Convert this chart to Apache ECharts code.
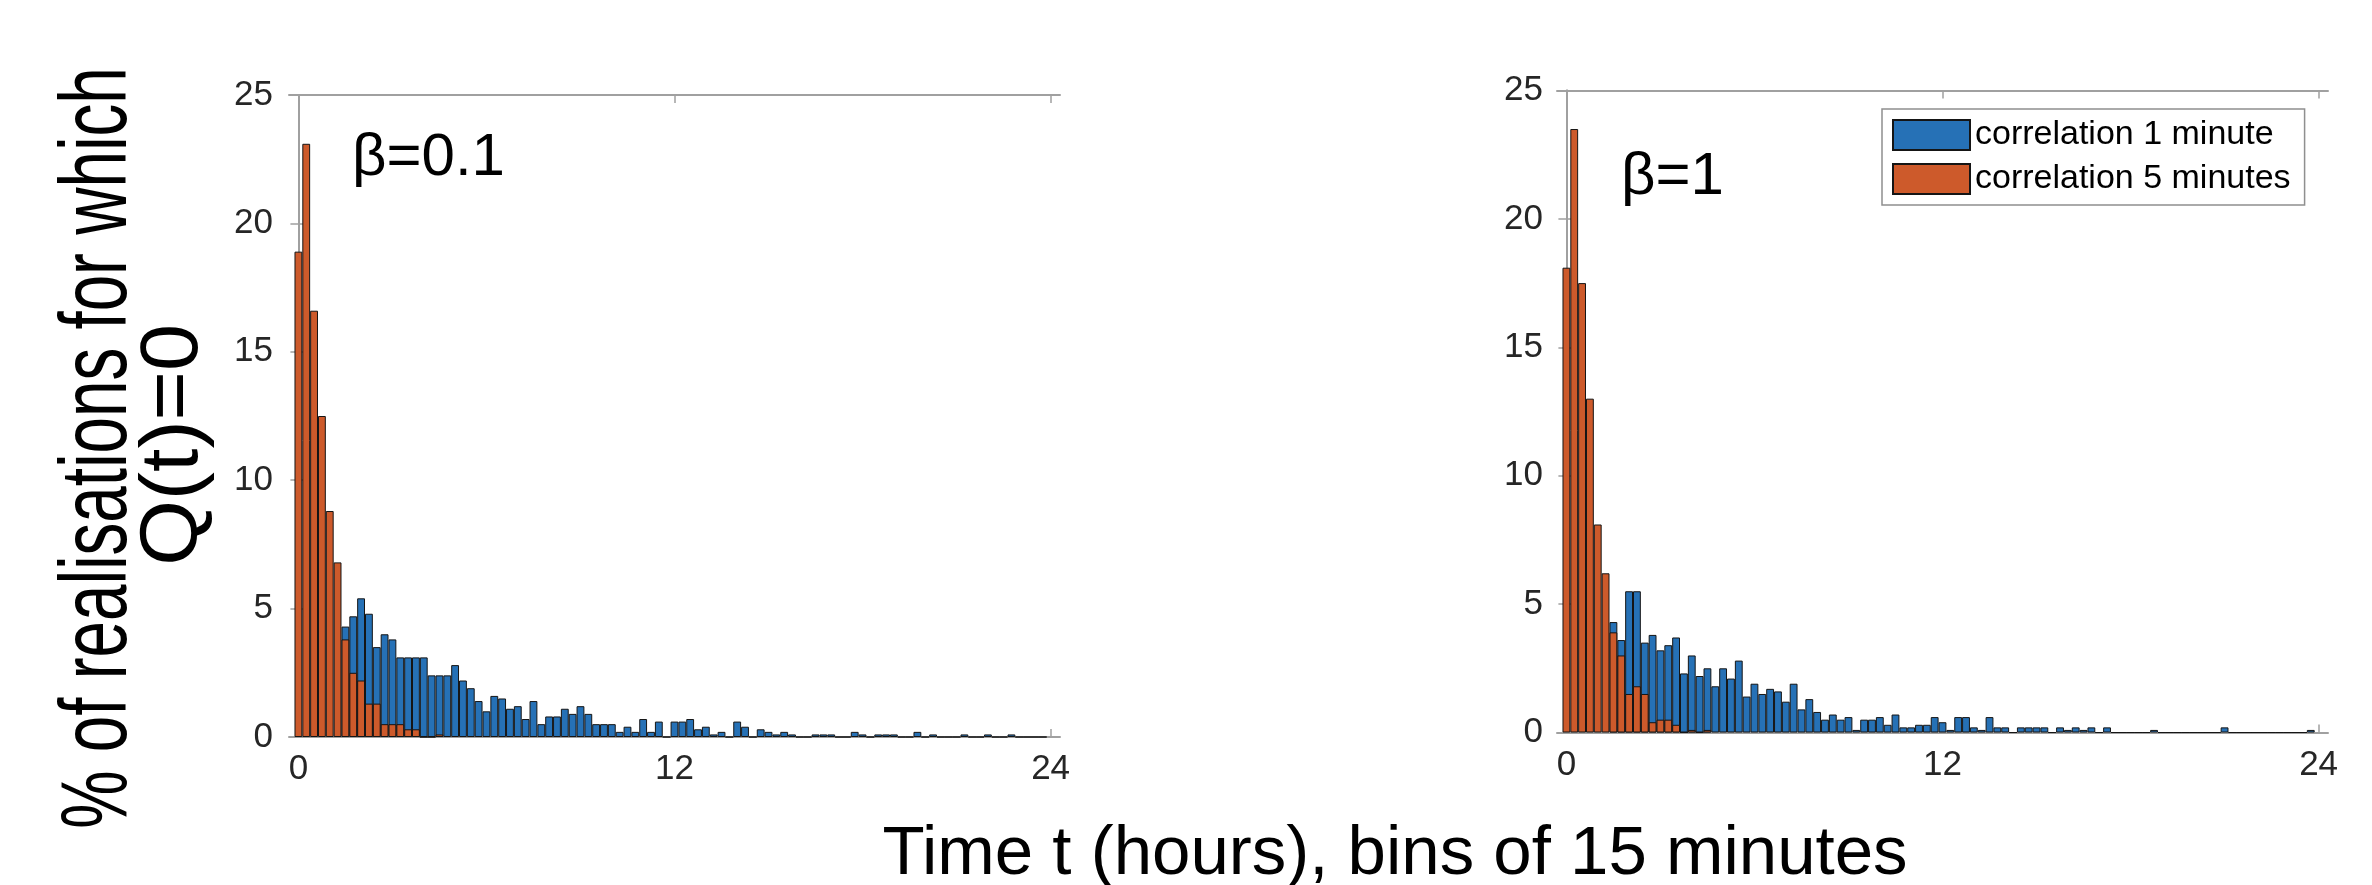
<!DOCTYPE html>
<html>
<head>
<meta charset="utf-8">
<title>Q(t)=0 histograms</title>
<script src="https://cdn.jsdelivr.net/npm/echarts@6/dist/echarts.min.js"></script>
<style>
  html, body { margin: 0; padding: 0; background: #ffffff; }
  #chart { width: 2372px; height: 885px; }
</style>
</head>
<body>
<div id="chart"></div>
<script>
// 15-minute bins over a 24 hour day
const BIN_HOURS = 0.25;
const binCentres = Array.from({ length: 96 }, (_, k) => k * BIN_HOURS);
const xTicks = [0, 12, 24];
const yTicks = [0, 5, 10, 15, 20, 25];

const seriesNames = ['correlation 1 minute', 'correlation 5 minutes'];
const panelLabels = ['\u03b2=0.1', '\u03b2=1'];

// beta = 0.1 : % of realisations per bin (null = hidden behind the 5-minute bars)
const blueBeta01 = [
  null, null, null, null, null, null, 4.3, 4.7, 5.4, 4.8, 3.5, 4.0,
  3.8, 3.1, 3.1, 3.1, 3.1, 2.4, 2.4, 2.4, 2.8, 2.2, 1.9, 1.4,
  1.0, 1.6, 1.5, 1.1, 1.2, 0.7, 1.4, 0.5, 0.8, 0.8, 1.1, 0.9,
  1.2, 0.9, 0.5, 0.5, 0.5, 0.2, 0.4, 0.2, 0.7, 0.2, 0.6, 0,
  0.6, 0.6, 0.7, 0.3, 0.4, 0.1, 0.2, 0, 0.6, 0.4, 0, 0.3,
  0.2, 0.1, 0.2, 0.1, 0, 0, 0.1, 0.1, 0.1, 0, 0, 0.2,
  0.1, 0, 0.1, 0.1, 0.1, 0, 0, 0.2, 0, 0.1, 0, 0,
  0, 0.1, 0, 0, 0.1, 0, 0, 0.1, 0, 0, 0, 0
];
const orangeBeta01 = [
  18.9, 23.1, 16.6, 12.5, 8.8, 6.8, 3.8, 2.5, 2.2, 1.3, 1.3, 0.5,
  0.5, 0.5, 0.3, 0.3, 0, 0, 0.1
];

// beta = 1
const blueBeta1 = [
  null, null, null, null, null, null, 4.3, 3.6, 5.5, 5.5, 3.5, 3.8,
  3.2, 3.4, 3.7, 2.3, 3.0, 2.2, 2.5, 1.8, 2.5, 2.1, 2.8, 1.4,
  1.9, 1.5, 1.7, 1.6, 1.2, 1.9, 0.9, 1.3, 0.8, 0.5, 0.7, 0.5,
  0.6, 0.1, 0.5, 0.5, 0.6, 0.3, 0.7, 0.2, 0.2, 0.3, 0.3, 0.6,
  0.4, 0.1, 0.6, 0.6, 0.2, 0.1, 0.6, 0.2, 0.2, 0, 0.2, 0.2,
  0.2, 0.2, 0, 0.2, 0.1, 0.2, 0.1, 0.2, 0, 0.2, 0, 0,
  0, 0, 0, 0.1, 0, 0, 0, 0, 0, 0, 0, 0,
  0.2, 0, 0, 0, 0, 0, 0, 0, 0, 0, 0, 0.1
];
const orangeBeta1 = [
  18.1, 23.5, 17.5, 13.0, 8.1, 6.2, 3.9, 3.0, 1.5, 1.8, 1.5, 0.4,
  0.5, 0.5, 0.3, 0, 0.1, 0, 0.1
];

const BLUE = '#2671b6';
const ORANGE = '#cd5a2b';
const FRAME = '#a0a0a0';
const FONT = '"Liberation Sans", Helvetica, Arial, sans-serif';

const pairs = values => values.map((v, k) => [binCentres[k], v]);

const grids = [
  { left: 289, top: 95, width: 771, height: 642 },
  { left: 1557, top: 90.5, width: 771, height: 642 }
];

const xAxes = [];
const yAxes = [];
grids.forEach((g, i) => {
  const base = {
    type: 'value', gridIndex: i, min: -0.3, max: 24.3,
    splitLine: { show: false },
    axisLine: { show: true, onZero: false, lineStyle: { color: FRAME, width: 2 } },
    axisTick: { show: true, inside: true, length: 8, customValues: xTicks, lineStyle: { color: FRAME, width: 1.5 } }
  };
  xAxes.push(Object.assign({}, base, {
    position: 'bottom',
    axisLabel: { show: true, customValues: xTicks, margin: 15, fontSize: 35, color: '#262626', fontFamily: FONT }
  }));
  xAxes.push(Object.assign({}, base, { position: 'top', axisLabel: { show: false } }));

  const ybase = {
    type: 'value', gridIndex: i, min: 0, max: 25, interval: 5,
    splitLine: { show: false },
    axisLine: { show: true, lineStyle: { color: FRAME, width: 2 } },
    axisTick: { show: true, inside: true, length: 8, lineStyle: { color: FRAME, width: 1.5 } }
  };
  yAxes.push(Object.assign({}, ybase, {
    position: 'left',
    axisLabel: { show: true, margin: i === 0 ? 16 : 14, fontSize: 35, color: '#262626', fontFamily: FONT,
      formatter: v => (yTicks.indexOf(v) >= 0 ? String(v) : '') }
  }));
  yAxes.push(Object.assign({}, ybase, { position: 'right', axisLabel: { show: false } }));
});

const barBase = {
  type: 'bar',
  barWidth: '100%',
  barGap: '-100%',
  animation: false,
  silent: true
};

const panels = [
  { blue: blueBeta01, orange: orangeBeta01 },
  { blue: blueBeta1, orange: orangeBeta1 }
];

const series = [];
panels.forEach((p, i) => {
  series.push(Object.assign({}, barBase, {
    name: seriesNames[0], xAxisIndex: i * 2, yAxisIndex: i * 2,
    itemStyle: { color: BLUE, borderColor: '#151515', borderWidth: 1 },
    data: pairs(p.blue)
  }));
  series.push(Object.assign({}, barBase, {
    name: seriesNames[1], xAxisIndex: i * 2, yAxisIndex: i * 2,
    itemStyle: { color: ORANGE, borderColor: '#151515', borderWidth: 1 },
    data: pairs(p.orange)
  }));
});

// plain text element anchored at (x, y)
const textEl = (text, x, y, size, align, extra) => Object.assign({
  type: 'text',
  x: x, y: y,
  silent: true,
  style: {
    text: text, x: 0, y: 0,
    fontSize: size, fontFamily: FONT, fill: '#000000',
    align: align, verticalAlign: 'middle',
    textAlign: align, textVerticalAlign: 'middle'
  }
}, extra || {});

const graphic = [
  textEl(panelLabels[0], 352, 158, 60, 'left'),
  textEl(panelLabels[1], 1621, 177, 60, 'left'),
  textEl('Time t (hours), bins of 15 minutes', 1395, 855, 69, 'center'),
  // y-axis title, two rotated lines set in a narrow face
  textEl('% of realisations for which', 100, 448, 95, 'center', { rotation: Math.PI / 2, scaleX: 0.69 }),
  textEl('Q(t)=0', 174, 445, 82, 'center', { rotation: Math.PI / 2, scaleX: 1.03 })
];

const chart = echarts.init(document.getElementById('chart'), null, { renderer: 'canvas' });
chart.setOption({
  animation: false,
  backgroundColor: '#ffffff',
  grid: grids,
  xAxis: xAxes,
  yAxis: yAxes,
  legend: {
    data: seriesNames,
    orient: 'vertical',
    left: 1882, top: 109,
    padding: [9, 14, 9, 10],
    itemGap: 10,
    itemWidth: 77,
    itemHeight: 30,
    icon: 'rect',
    selectedMode: false,
    backgroundColor: '#ffffff',
    borderColor: '#8f8f8f',
    borderWidth: 1.5,
    borderRadius: 0,
    textStyle: { fontSize: 34, lineHeight: 30, color: '#000000', fontFamily: FONT }
  },
  series: series,
  graphic: graphic
});
</script>
</body>
</html>
